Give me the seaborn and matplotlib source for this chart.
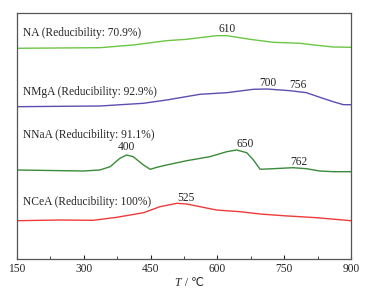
import matplotlib
matplotlib.use("Agg")
import matplotlib.pyplot as plt
import seaborn as sns
import pandas as pd
from matplotlib.ticker import MultipleLocator

sns.set_style("ticks")
plt.rcParams['font.family'] = ['Liberation Serif', 'DejaVu Serif']

# Temperatures (°C) and signal heights (arbitrary units)
na_T = [150, 336, 411, 486, 531, 598, 621, 673, 725, 785, 823, 860, 900]
na_s = [0.7, 1.3, 4.0, 8.3, 9.7, 13.3, 13.3, 9.7, 6.7, 5.7, 3.7, 2.0, 1.7]

nmga_T = [150, 336, 434, 486, 561, 621, 681, 711, 763, 800, 830, 860, 883, 900]
nmga_s = [0.3, 1.0, 3.7, 7.0, 12.7, 14.3, 17.7, 18.0, 16.3, 14.3, 9.7, 5.3, 2.3, 2.3]

nnaa_T = [150, 299, 336, 359, 381, 396, 411, 422, 434, 449, 464, 486, 531, 583,
          621, 643, 666, 681, 696, 725, 770, 800, 830, 860, 900]
nnaa_s = [1.0, 0.0, 1.0, 4.3, 12.7, 16.0, 14.3, 10.3, 6.0, 1.7, 3.7, 6.0, 10.3, 14.3,
          19.3, 21.0, 18.3, 11.0, 1.7, 2.3, 3.3, 2.3, 0.0, -0.7, -0.7]

ncea_T = [150, 247, 321, 374, 434, 471, 509, 531, 561, 598, 651, 696, 748, 823, 900]
ncea_s = [0.3, 1.0, 0.7, 3.7, 8.3, 14.3, 17.7, 17.0, 14.3, 11.0, 9.3, 7.0, 5.3, 3.3, 0.3]

names = ["NA", "NMgA", "NNaA", "NCeA"]
reducibility = ["70.9%", "92.9%", "91.1%", "100%"]
peaks = {
    "NA": [610],
    "NMgA": [700, 756],
    "NNaA": [400, 650, 762],
    "NCeA": [525],
}

series = {"NA": (na_T, na_s), "NMgA": (nmga_T, nmga_s),
          "NNaA": (nnaa_T, nnaa_s), "NCeA": (ncea_T, ncea_s)}
offsets = {"NA": 210, "NMgA": 152, "NNaA": 88, "NCeA": 38}
colors = {"NA": "#6cc644", "NMgA": "#5a4fb0", "NNaA": "#3a8a3a", "NCeA": "#f03a3a"}
label_y = {"NA": 225.7, "NMgA": 167.3, "NNaA": 124, "NCeA": 57.3}
peak_pos = {
    "NA": [(621, 229.7)],
    "NMgA": [(713, 176.3), (780, 174)],
    "NNaA": [(396, 111.7), (662, 115), (782, 96.7)],
    "NCeA": [(529, 61.3)],
}

fig = plt.figure(figsize=(3.79, 2.95), dpi=100)
ax = fig.add_axes([0.045, 0.122, 0.881, 0.834])

for n in names:
    T, s = series[n]
    df = pd.DataFrame({"T": T, "y": [v + offsets[n] for v in s]})
    sns.lineplot(data=df, x="T", y="y", ax=ax, color=colors[n], lw=1.0,
                 sort=False, estimator=None)

fs = 8.3
for n, r in zip(names, reducibility):
    ax.text(163, label_y[n], f"{n} (Reducibility: {r})", fontsize=fs,
            va="center", ha="left")
    for p, (x, y) in zip(peaks[n], peak_pos[n]):
        ax.text(x, y, str(p), fontsize=fs, va="center", ha="center")

ax.set_xlim(150, 900)
ax.set_ylim(0, 246)
ax.xaxis.set_major_locator(MultipleLocator(150))
ax.xaxis.set_minor_locator(MultipleLocator(75))
ax.set_yticks([])
ax.tick_params(axis="x", which="both", direction="in", labelsize=fs, pad=3)
ax.tick_params(axis="x", which="major", length=3)
ax.tick_params(axis="x", which="minor", length=2)
ax.set_xlabel("")
ax.set_ylabel("")
for sp in ax.spines.values():
    sp.set_color("#555555")
    sp.set_linewidth(0.9)

# x-axis title: italic T followed by " / ℃"
fig.text(0.477, 0.04, "T", fontsize=fs, fontstyle="italic", ha="right", va="center",
         family=["Liberation Serif"])
fig.text(0.479, 0.04, " / ℃", fontsize=fs, ha="left", va="center",
         family=["Liberation Serif", "DejaVu Sans", "Noto Sans CJK SC"])

fig.savefig("out.png", dpi=100)
